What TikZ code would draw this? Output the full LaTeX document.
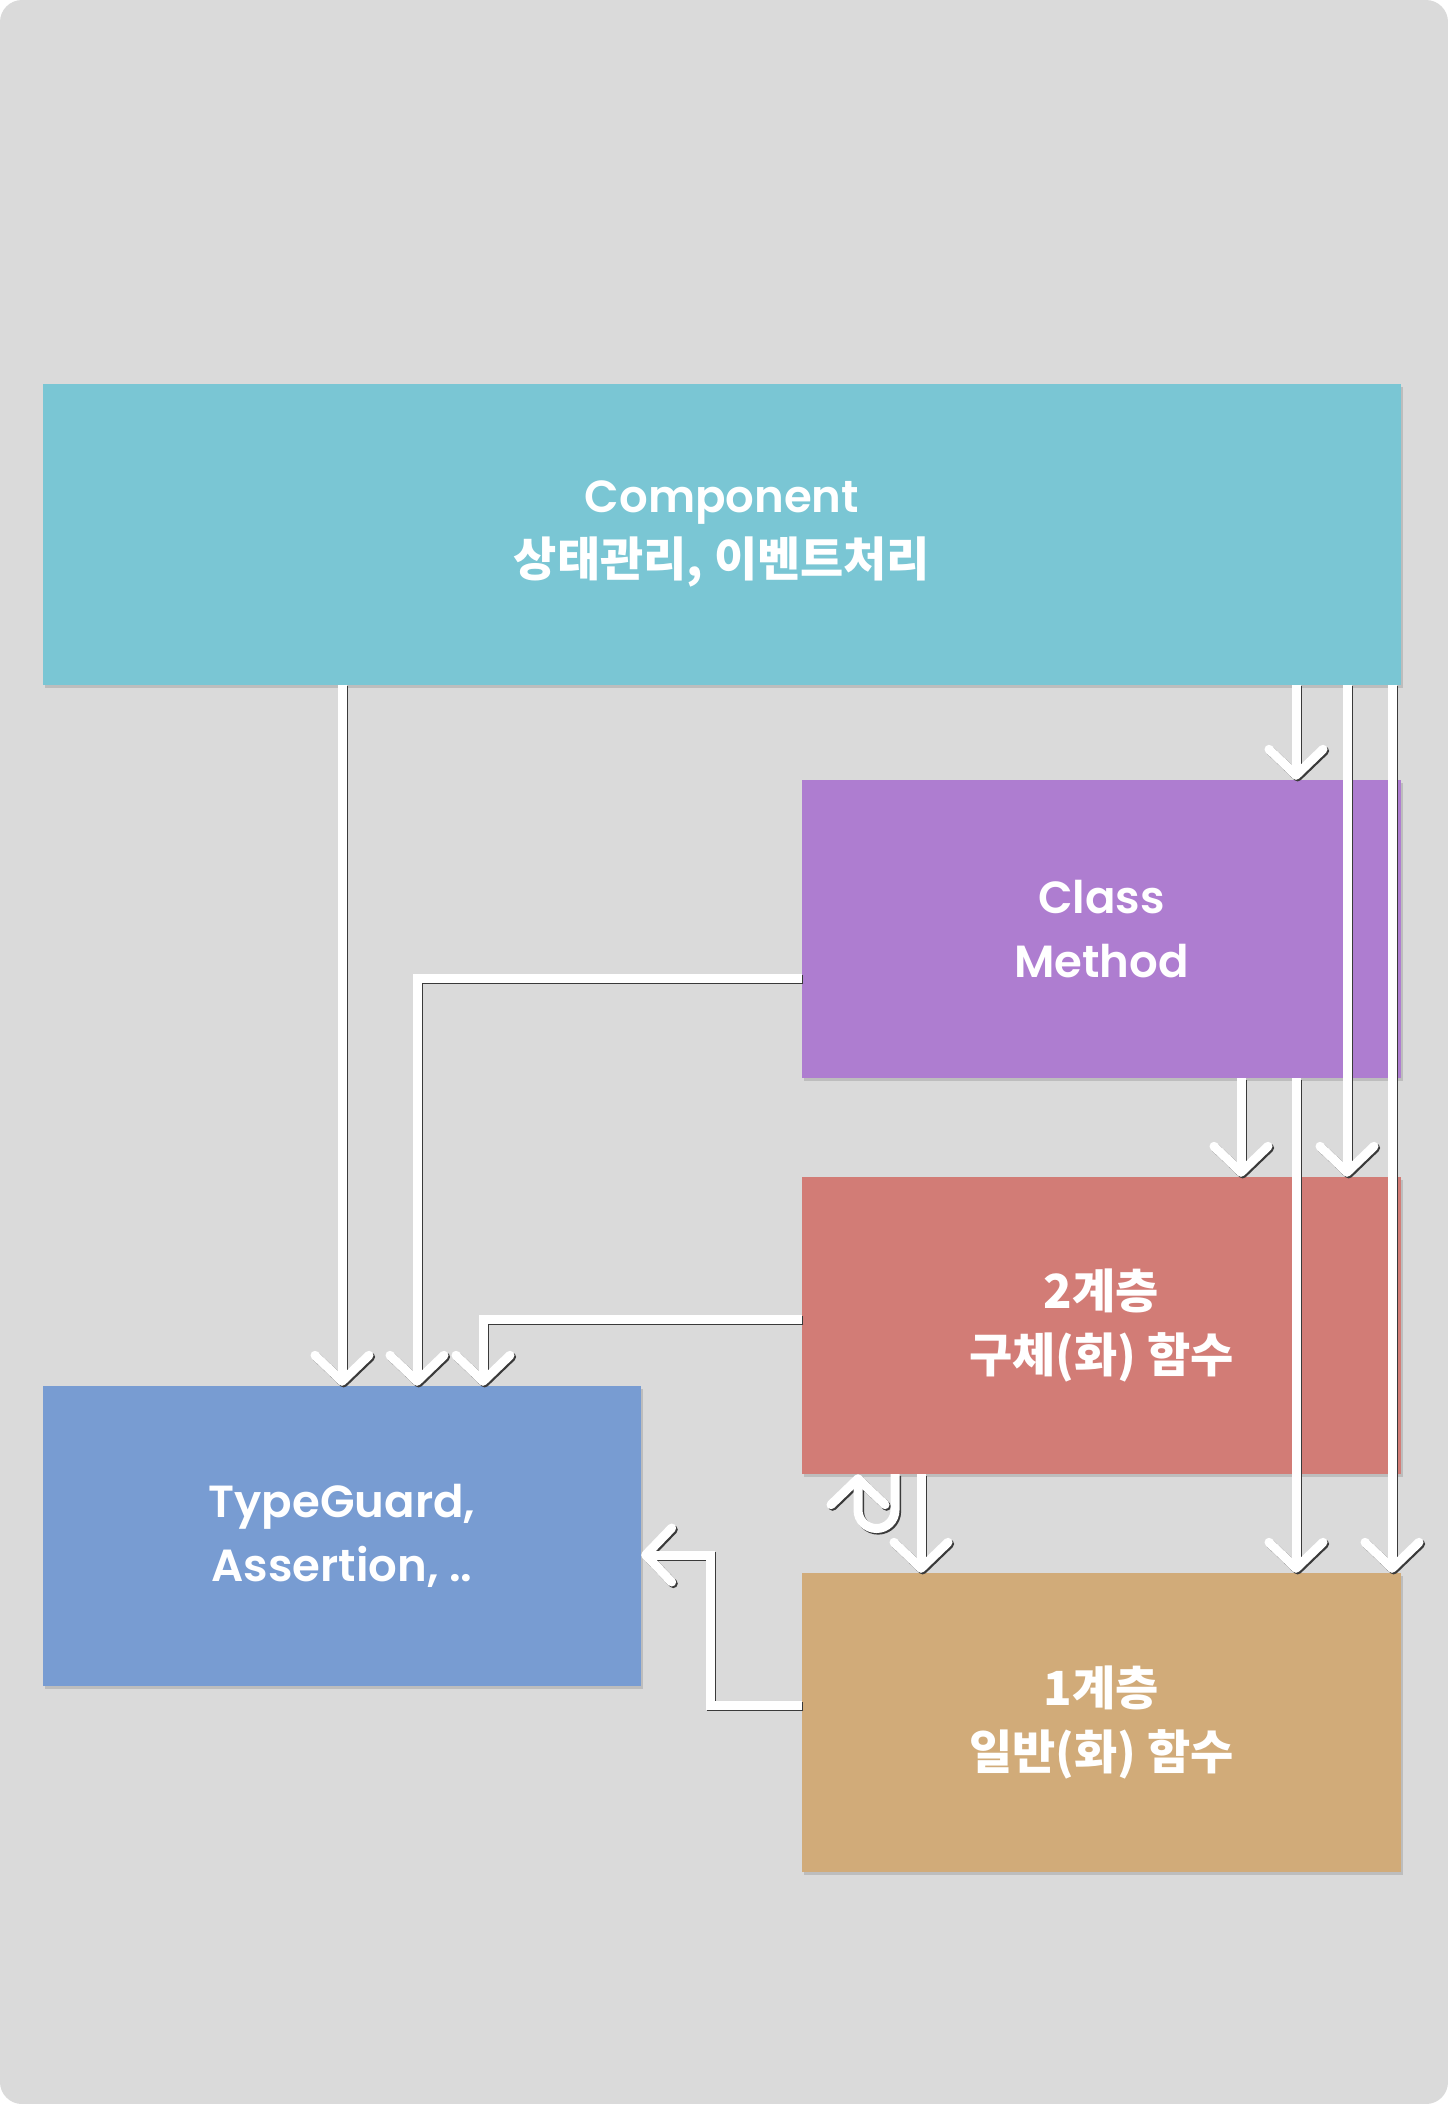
\documentclass[tikz,border=0pt]{standalone}
\usepackage{fontspec}
\setmainfont{Poppins}[BoldFont={Poppins SemiBold}]
\newfontfamily\ko{Noto Sans CJK KR}
\usetikzlibrary{arrows.meta}
\definecolor{bgc}{HTML}{DADADA}
\definecolor{compc}{HTML}{7AC6D4}
\definecolor{cmc}{HTML}{AE7DD0}
\definecolor{ltwoc}{HTML}{D27C76}
\definecolor{lonec}{HTML}{D1AB79}
\definecolor{tgc}{HTML}{789CD2}
\definecolor{shadowc}{HTML}{3A3A3A}
\newcommand{\kotext}{\ko\bfseries\fontsize{47}{64}\selectfont}
\tikzset{
  box/.style={rectangle, inner sep=0pt, text=white, align=center,
    font=\bfseries\fontsize{45}{64}\selectfont,
    preaction={fill=black, fill opacity=0.13, transform canvas={xshift=2pt,yshift=-3pt}}},
  conn/.style={draw=white, line width=9pt,
    -{Straight Barb[length=26pt,width=54pt,round]},
    preaction={draw=shadowc, line width=9pt, transform canvas={xshift=1.6pt,yshift=-1.6pt}}},
}
\begin{document}
\begin{tikzpicture}[x=1pt,y=-1pt]
\useasboundingbox (0,0) rectangle (1448,2104);
\fill[white] (0,0) rectangle (1448,2104);
\fill[bgc, rounded corners=22pt] (0,0) rectangle (1448,2104);

\node[box, fill=compc, minimum width=1358pt, minimum height=301pt] (comp) at (722,534)
  {Component\\{\kotext 상태관리, 이벤트처리}};
\node[box, fill=cmc, minimum width=599pt, minimum height=298pt] (cm) at (1101.5,929)
  {Class\\Method};
\node[box, fill=ltwoc, minimum width=599pt, minimum height=297pt] (ltwo) at (1101.5,1325.5)
  {\kotext 2계층\\\kotext 구체(화) 함수};
\node[box, fill=lonec, minimum width=599pt, minimum height=299pt] (lone) at (1101.5,1722.5)
  {\kotext 1계층\\\kotext 일반(화) 함수};
\node[box, fill=tgc, minimum width=598pt, minimum height=300pt] (tg) at (342,1536)
  {TypeGuard,\\Assertion, ..};

% Component arrows
\draw[conn] (comp.south -| 342,0) -- (tg.north -| 342,0);
\draw[conn] (comp.south -| 1296,0) -- (cm.north -| 1296,0);
\draw[conn] (comp.south -| 1347,0) -- (ltwo.north -| 1347,0);
\draw[conn] (comp.south -| 1392,0) -- (lone.north -| 1392,0);
% Class Method arrows
\draw[conn] (cm.west |- 0,978) -| (tg.north -| 417,0);
\draw[conn] (cm.south -| 1241,0) -- (ltwo.north -| 1241,0);
\draw[conn] (cm.south -| 1296,0) -- (lone.north -| 1296,0);
% Layer 2 arrows
\draw[conn] (ltwo.west |- 0,1319) -| (tg.north -| 483,0);
\draw[conn] (ltwo.south -| 921,0) -- (lone.north -| 921,0);
\draw[conn] (ltwo.south -| 895,0) -- (895,1510) arc[start angle=0, end angle=180, radius=18.5] -- (ltwo.south -| 858,0);
% Layer 1 arrow
\draw[conn] (lone.west |- 0,1705) -- (710,1705) -- (710,1555) -- (tg.east |- 0,1555);
\end{tikzpicture}
\end{document}
